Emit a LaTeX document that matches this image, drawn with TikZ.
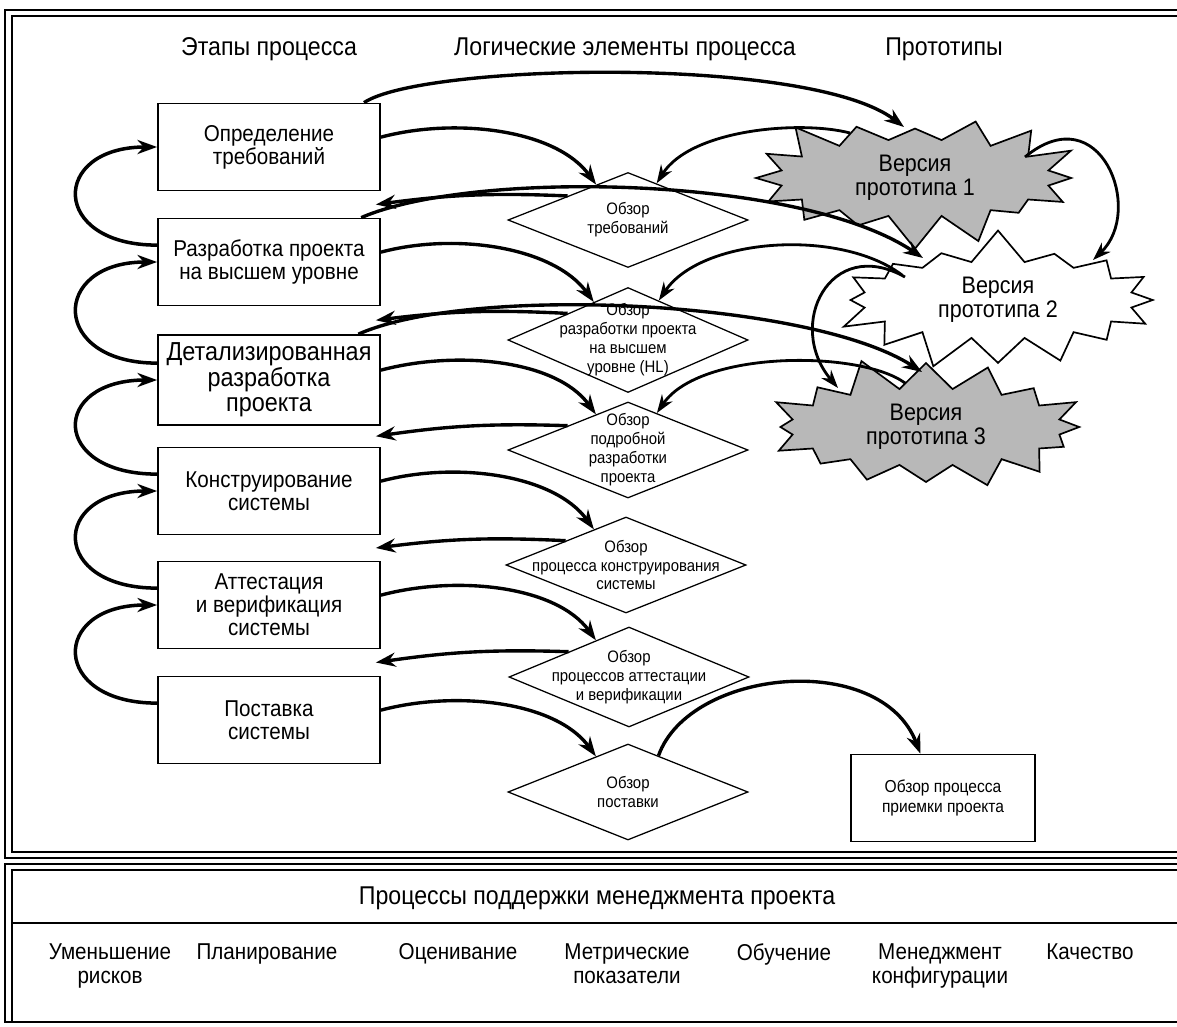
\documentclass[tikz,border=0pt]{standalone}
\usepackage{fontspec}
\setmainfont{Liberation Sans}[FakeStretch=0.9]
\usetikzlibrary{arrows.meta}
\usetikzlibrary{calc}
\usetikzlibrary{shapes.geometric}
\usetikzlibrary{shapes.symbols}

\begin{document}
\begin{tikzpicture}
[x=0.025cm,y=-0.025cm,%
  framedecorate/.style={line width=1.3pt},%
  headdecorate/.style={inner sep=0pt,font=\fontsize{18.3}{20}\selectfont},%
  stagedecorate/.style={shape=rectangle,draw,line width=1.2pt,inner sep=0pt,
    minimum width=5.55cm,minimum height=2.175cm,align=center,
    font=\fontsize{16.3}{16.5}\selectfont},%
  bigstagedecorate/.style={stagedecorate,minimum height=2.25cm,
    font=\fontsize{18.5}{18}\selectfont},%
  reviewdecorate/.style={shape=diamond,draw,line width=0.9pt,inner sep=0pt,
    minimum width=6cm},%
  reviewtext/.style={align=center,inner sep=0pt,
    font=\fontsize{11.8}{13.5}\selectfont},%
  protodecorate/.style={shape=starburst,draw,line width=1.2pt,align=center,
    starburst points=16,starburst point height=0.85cm,
    minimum width=8.5cm,minimum height=1.8cm,
    font=\fontsize{17}{17}\selectfont},%
  accdecorate/.style={shape=rectangle,draw,line width=1pt,inner sep=0pt,
    minimum width=4.6cm,minimum height=2.175cm,align=center,
    font=\fontsize{12.3}{14}\selectfont},%
  supportdecorate/.style={align=center,anchor=north,inner sep=0pt,
    font=\fontsize{16.3}{17.7}\selectfont},%
  loopdecorate/.style={line width=2.5pt,-{Stealth[length=14pt,width=10pt]}},%
  arrowdecorate/.style={line width=2.4pt,-{Stealth[length=14pt,width=10pt]}},%
  protoarrow/.style={line width=2pt,-{Stealth[length=13pt,width=9pt]}}]
\useasboundingbox (0,0) rectangle (1177,1026);
%% frames
\draw[framedecorate] (5,10) rectangle (1200,858);
\draw[framedecorate] (12,16) rectangle (1194,852);
\draw[framedecorate] (5,864) rectangle (1200,1022);
\draw[framedecorate] (12,1022) -- (12,870) -- (1200,870);
\draw[framedecorate] (12,923) -- (1200,923);
%% column titles
\node (h1) at (269,49) [headdecorate] {Этапы процесса};
\node (h2) at (625,49) [headdecorate] {Логические элементы процесса};
\node (h3) at (944,49) [headdecorate] {Прототипы};
%% stages
\foreach \nodename/\y/\kind/\txt in {s1/147/stagedecorate/{Определение\\требований},
  s2/262/stagedecorate/{Разработка проекта\\на высшем уровне},
  s3/380/bigstagedecorate/{Детализированная\\разработка\\проекта},
  s4/491/stagedecorate/{Конструирование\\системы},
  s5/605/stagedecorate/{Аттестация\\и верификация\\системы},
  s6/720/stagedecorate/{Поставка\\системы}}
{
  \node (\nodename) at (269,\y) [\kind] {\txt};
}
%% reviews
\foreach \nodename/\x/\y/\h/\txt in {d1/628/220/95/{Обзор\\требований},
  d2/628/340/105/{Обзор\\разработки проекта\\на высшем\\уровне (HL)},
  d3/628/450/96/{Обзор\\подробной\\разработки\\проекта},
  d4/626/565/96/{Обзор\\процесса конструирования\\системы},
  d5/629/677/100/{Обзор\\процессов аттестации\\и верификации},
  d6/628/792/96/{Обзор\\поставки}}
{
  \node (\nodename) at (\x,\y) [reviewdecorate,minimum height=\h*0.025cm] {};
  \node (\nodename-t) at (\nodename) [reviewtext] {\txt};
}
\node (acc) at (943,798) [accdecorate] {Обзор процесса\\приемки проекта};
%% prototypes
\node (p1) at (915,178) [protodecorate,fill=black!28,random starburst=3]
  {Версия\\прототипа 1};
\node (p2) at (998,300) [protodecorate,fill=white,random starburst=7]
  {Версия\\прототипа 2};
\node (p3) at (926,427) [protodecorate,fill=black!28,random starburst=11]
  {Версия\\прототипа 3};
%% support processes
\node (sup) at (597,898) [headdecorate] {Процессы поддержки менеджмента проекта};
\foreach \nodename/\x/\txt in {u1/110/{Уменьшение\\рисков}, u2/267/Планирование,
  u3/458/Оценивание, u4/627/{Метрические\\показатели}, u5/784/Обучение,
  u6/940/{Менеджмент\\конфигурации}, u7/1090/Качество}
{
  \node (\nodename) at (\x,943) [supportdecorate] {\txt};
}
%% stage loops
\foreach \startnode/\endnode in {s2/s1, s3/s2, s4/s3, s5/s4, s6/s5}
{
  \draw[loopdecorate] ([yshift=12pt]\startnode.west) .. controls +(-107,0)
    and +(-107,0) .. (\endnode.west);
}
%% stages to reviews
\foreach \startnode/\endnode in {s1/d1, s2/d2, s3/d3, s4/d4, s5/d5, s6/d6}
{
  \draw[arrowdecorate] ([yshift=7pt]\startnode.east) .. controls +(75,-20)
    and +(-40,-55) .. (\endnode.132);
}
%% reviews back to stages
\foreach \startnode/\upper/\lower in {d1/s1/s2, d2/s2/s3, d3/s3/s4, d4/s4/s5, d5/s5/s6}
{
  \draw[arrowdecorate] (\startnode.north west) to[bend right=5]
    ($(\upper.south east)!.5!(\lower.north east)+(-5,0)$);
}
%% stages to prototypes
\draw[arrowdecorate] ([xshift=-12pt]s1.north east) .. controls +(58,-39)
  and +(-94,-72) .. ($(p1.center)+(-11,-51)$);
\draw[arrowdecorate] ([xshift=-14pt]s2.north east) .. controls +(110,-48)
  and +(-123,-83) .. ($(p2.center)+(-75,-42)$);
\draw[arrowdecorate] ([xshift=-16pt]s3.north east) .. controls +(113,-50)
  and +(-112,-72) .. ($(p3.center)+(-4,-55)$);
%% prototypes to reviews
\draw[protoarrow] ($(p1.center)+(-65,-45)$) .. controls +(-50,-13)
  and +(34,-54) .. (d1.52);
\draw[protoarrow] ($(p2.center)+(-96,-25)$) .. controls +(-62,-47)
  and +(42,-63) .. (d2.52);
\draw[protoarrow] ($(p3.center)+(-21,-44)$) .. controls +(-45,-33)
  and +(43,-63) .. (d3.52);
%% prototypes to prototypes
\draw[protoarrow] ($(p1.center)+(110,-21)$) .. controls +(75,-62)
  and +(52,-50) .. ($(p2.center)+(95,-40)$);
\draw[protoarrow] ($(p2.center)+(-93,-23)$) .. controls +(-75,-42)
  and +(-53,-63) .. ($(p3.center)+(-88,-39)$);
%% delivery review to acceptance
\draw[arrowdecorate] (d6.50) .. controls +(31,-87) and +(-40,-104)
  .. ([xshift=-16pt]acc.north);
\end{tikzpicture}
\end{document}
